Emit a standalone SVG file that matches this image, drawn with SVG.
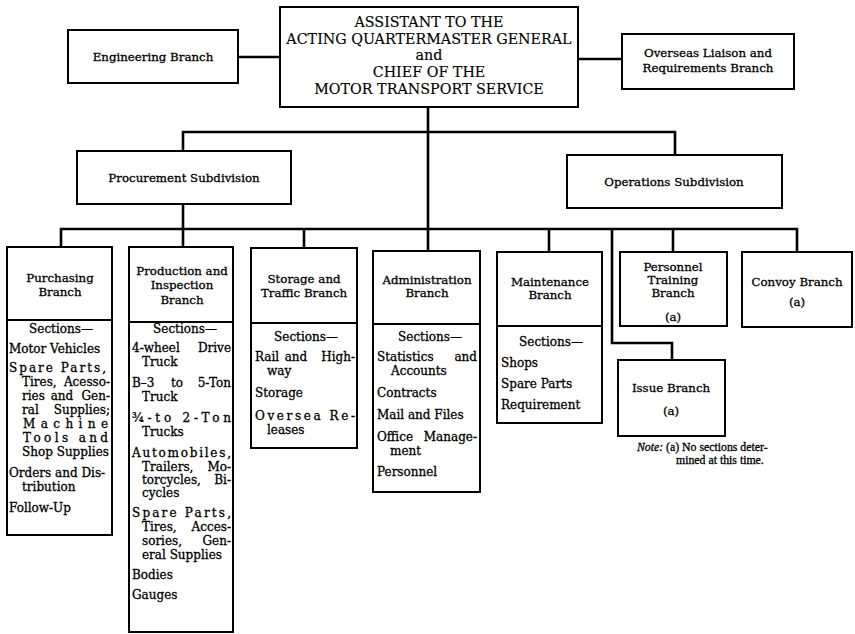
<svg xmlns="http://www.w3.org/2000/svg" width="855" height="634" viewBox="0 0 855 634">
<style>
.box{fill:#fff;stroke:#000;stroke-width:2}
.div{stroke:#000;stroke-width:2}
.ln{fill:none;stroke:#000;stroke-width:2.6}
text{font-family:"DejaVu Serif","Liberation Serif",serif;fill:#000}
.t{font-size:14.3px;text-anchor:middle;stroke:#000;stroke-width:0.15}
.h{font-size:11.8px;text-anchor:middle;stroke:#000;stroke-width:0.3}
.b{font-size:12px;stroke:#000;stroke-width:0.3}
.c{text-anchor:middle}
.e{text-anchor:end}
.n{font-family:"Liberation Serif",serif;font-size:11.8px;stroke:#000;stroke-width:0.3}
</style>
<rect width="855" height="634" fill="#fff"/>
<g id="connectors">
<path class="ln" d="M238,57H280"/>
<path class="ln" d="M578,59H622"/>
<path class="ln" d="M428,107V251"/>
<path class="ln" d="M183,151V132H675V155"/>
<path class="ln" d="M183,204V247"/>
<path class="ln" d="M61,247V229H797V252"/>
<path class="ln" d="M304,229V248"/>
<path class="ln" d="M549,229V252"/>
<path class="ln" d="M673,229V252"/>
<path class="ln" d="M612,229V343H672V360"/>
</g>
<g id="chief">
<rect class="box" x="280" y="7" width="298" height="100"/>
<text class="t" x="429" y="27">ASSISTANT TO THE</text>
<text class="t" x="429" y="44">ACTING QUARTERMASTER GENERAL</text>
<text class="t" x="429" y="60">and</text>
<text class="t" x="429" y="77">CHIEF OF THE</text>
<text class="t" x="429" y="94">MOTOR TRANSPORT SERVICE</text>
</g>
<g id="engineering">
<rect class="box" x="68" y="30" width="170" height="53"/>
<text class="h" x="153" y="61">Engineering Branch</text>
</g>
<g id="overseas">
<rect class="box" x="622" y="34" width="172" height="55"/>
<text class="h" x="708" y="57">Overseas Liaison and</text>
<text class="h" x="708" y="72">Requirements Branch</text>
</g>
<g id="procurement">
<rect class="box" x="77" y="151" width="214" height="53"/>
<text class="h" x="184" y="182">Procurement Subdivision</text>
</g>
<g id="operations">
<rect class="box" x="567" y="155" width="215" height="53"/>
<text class="h" x="674" y="186">Operations Subdivision</text>
</g>
<g id="purchasing">
<rect class="box" x="7" y="247" width="105" height="288"/>
<line class="div" x1="7" y1="320" x2="112" y2="320"/>
<text class="h" x="60" y="282">Purchasing</text>
<text class="h" x="60" y="296">Branch</text>
<g class="b">
<text class="c" x="61" y="333">Sections—</text>
<text x="9" y="353">Motor Vehicles</text>
<text x="9" y="372" textLength="97" lengthAdjust="spacing">Spare Parts,</text>
<text y="386"><tspan x="22">Tires,</tspan><tspan x="110" class="e">Acesso-</tspan></text>
<text y="400"><tspan x="22">ries</tspan><tspan x="62" class="c">and</tspan><tspan x="110" class="e">Gen-</tspan></text>
<text y="414"><tspan x="22">ral</tspan><tspan x="110" class="e">Supplies;</tspan></text>
<text x="23" y="428" textLength="85" lengthAdjust="spacing">Machine</text>
<text x="23" y="442" textLength="85" lengthAdjust="spacing">Tools and</text>
<text x="22" y="456">Shop Supplies</text>
<text x="9" y="477">Orders and Dis-</text>
<text x="22" y="491">tribution</text>
<text x="9" y="512">Follow-Up</text>
</g>
</g>
<g id="production">
<rect class="box" x="129" y="247" width="104" height="385"/>
<line class="div" x1="129" y1="322" x2="233" y2="322"/>
<text class="h" x="182" y="275">Production and</text>
<text class="h" x="182" y="289">Inspection</text>
<text class="h" x="182" y="304">Branch</text>
<g class="b">
<text class="c" x="185" y="333">Sections—</text>
<text y="352"><tspan x="132">4-wheel</tspan><tspan x="231" class="e">Drive</tspan></text>
<text x="142" y="366">Truck</text>
<text y="387"><tspan x="132">B–3</tspan><tspan x="177" class="c">to</tspan><tspan x="231" class="e">5-Ton</tspan></text>
<text x="142" y="401">Truck</text>
<text x="132" y="422" textLength="99" lengthAdjust="spacing">¾-to 2-Ton</text>
<text x="142" y="436">Trucks</text>
<text x="132" y="457" textLength="99" lengthAdjust="spacing">Automobiles,</text>
<text y="471"><tspan x="142">Trailers,</tspan><tspan x="231" class="e">Mo-</tspan></text>
<text y="484"><tspan x="142">torcycles,</tspan><tspan x="231" class="e">Bi-</tspan></text>
<text x="142" y="497">cycles</text>
<text x="132" y="517" textLength="99" lengthAdjust="spacing">Spare Parts,</text>
<text y="531"><tspan x="142">Tires,</tspan><tspan x="231" class="e">Acces-</tspan></text>
<text y="545"><tspan x="142">sories,</tspan><tspan x="231" class="e">Gen-</tspan></text>
<text x="142" y="559">eral Supplies</text>
<text x="132" y="579">Bodies</text>
<text x="132" y="599">Gauges</text>
</g>
</g>
<g id="storage">
<rect class="box" x="251" y="248" width="106" height="200"/>
<line class="div" x1="251" y1="323" x2="357" y2="323"/>
<text class="h" x="304" y="283">Storage and</text>
<text class="h" x="304" y="297">Traffic Branch</text>
<g class="b">
<text class="c" x="306" y="341">Sections—</text>
<text y="361"><tspan x="255">Rail</tspan><tspan x="296" class="c">and</tspan><tspan x="355" class="e">High-</tspan></text>
<text x="267" y="375">way</text>
<text x="255" y="397">Storage</text>
<text x="255" y="420" textLength="100" lengthAdjust="spacing">Oversea Re-</text>
<text x="267" y="434">leases</text>
</g>
</g>
<g id="administration">
<rect class="box" x="373" y="251" width="107" height="241"/>
<line class="div" x1="373" y1="324" x2="480" y2="324"/>
<text class="h" x="427" y="284">Administration</text>
<text class="h" x="427" y="297">Branch</text>
<g class="b">
<text class="c" x="430" y="341">Sections—</text>
<text y="361"><tspan x="377">Statistics</tspan><tspan x="477" class="e">and</tspan></text>
<text x="391" y="375">Accounts</text>
<text x="377" y="397">Contracts</text>
<text x="377" y="419">Mail and Files</text>
<text y="441"><tspan x="377">Office</tspan><tspan x="477" class="e">Manage-</tspan></text>
<text x="390" y="455">ment</text>
<text x="377" y="476">Personnel</text>
</g>
</g>
<g id="maintenance">
<rect class="box" x="497" y="252" width="105" height="171"/>
<line class="div" x1="497" y1="326" x2="602" y2="326"/>
<text class="h" x="550" y="286">Maintenance</text>
<text class="h" x="550" y="299">Branch</text>
<g class="b">
<text class="c" x="551" y="346">Sections—</text>
<text x="501" y="367">Shops</text>
<text x="501" y="388">Spare Parts</text>
<text x="501" y="409">Requirement</text>
</g>
</g>
<g id="personnel-training">
<rect class="box" x="620" y="252" width="107" height="74"/>
<text class="h" x="673" y="271">Personnel</text>
<text class="h" x="673" y="284">Training</text>
<text class="h" x="673" y="297">Branch</text>
<text class="h" x="673" y="321">(a)</text>
</g>
<g id="convoy">
<rect class="box" x="742" y="252" width="110" height="75"/>
<text class="h" x="797" y="286">Convoy Branch</text>
<text class="h" x="797" y="306">(a)</text>
</g>
<g id="issue">
<rect class="box" x="618" y="360" width="107" height="76"/>
<text class="h" x="671" y="392">Issue Branch</text>
<text class="h" x="671" y="415">(a)</text>
</g>
<g id="note">
<text class="n" y="451"><tspan x="637" font-style="italic">Note:</tspan><tspan x="666">(a) No sections deter-</tspan></text>
<text class="n" x="676" y="464">mined at this time.</text>
</g>
</svg>
